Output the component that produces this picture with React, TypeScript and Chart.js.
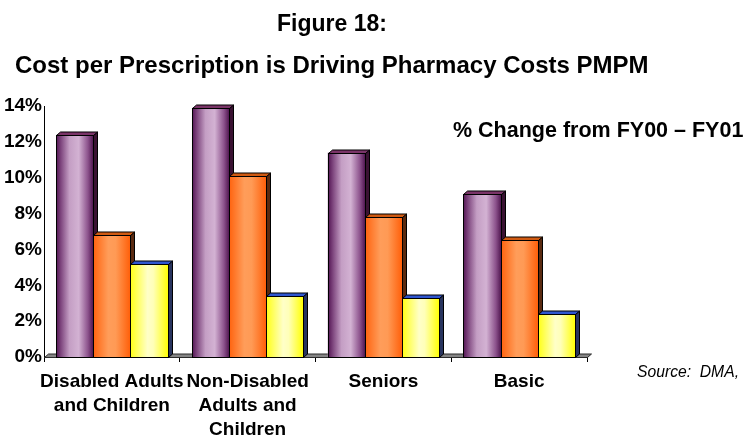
import React, { useEffect, useRef } from 'react';
import { Chart, registerables } from 'chart.js';

Chart.register(...registerables);

// ---- data ----
const categories: (string | string[])[] = [
  ['Disabled Adults', 'and Children'],
  ['Non-Disabled', 'Adults and', 'Children'],
  'Seniors',
  'Basic',
];
const seriesNames = ['Series 1', 'Series 2', 'Series 3'];
const purpleValues = [12.4, 13.9, 11.4, 9.1];
const orangeValues = [6.8, 10.1, 7.8, 6.5];
const yellowValues = [5.2, 3.4, 3.3, 2.4];
const yMin = 0;
const yMax = 14;
const yStep = 2;
const titleLine1 = 'Figure 18:';
const titleLine2 = 'Cost per Prescription is Driving Pharmacy Costs PMPM';
const noteText = '% Change from FY00 \u2013 FY01';
const sourceText = 'Source:  DMA,';

// ---- styles ----
const FONT = '"Liberation Sans", Arial, Helvetica, sans-serif';
const DX = 4;
const DY = 3.5;
const styles = [
  {
    base: '#b184b1',
    grad: [
      [0, '#561856'],
      [0.12, '#7e467e'],
      [0.35, '#c49ec4'],
      [0.6, '#d3b2d3'],
      [0.85, '#8c528c'],
      [1, '#4c124c'],
    ],
    top: '#7a3468',
    side: '#3a1232',
  },
  {
    base: '#ff8a3c',
    grad: [
      [0, '#ff6410'],
      [0.4, '#ff9d5a'],
      [0.6, '#ff9a55'],
      [1, '#ff5e08'],
    ],
    top: '#d05a12',
    side: '#5a2a10',
  },
  {
    base: '#ffff80',
    grad: [
      [0, '#ffff18'],
      [0.45, '#ffffc8'],
      [0.6, '#ffffb8'],
      [1, '#ffff00'],
    ],
    top: '#2f56d0',
    side: '#28345e',
  },
];

const bar3dPlugin = {
  id: 'bar3d',
  beforeDatasetsDraw(chart: any) {
    const { ctx, chartArea, scales } = chart;
    const y0 = Math.round(scales.y.getPixelForValue(0)) + 0.5;
    const l = Math.round(chartArea.left) + 0.5;
    const r = Math.round(chartArea.right) + 0.5;
    ctx.save();
    ctx.beginPath();
    ctx.moveTo(l, y0);
    ctx.lineTo(r, y0);
    ctx.lineTo(r + DX, y0 - DY);
    ctx.lineTo(l + DX, y0 - DY);
    ctx.closePath();
    ctx.fillStyle = '#858585';
    ctx.fill();
    ctx.strokeStyle = '#2a2a2a';
    ctx.lineWidth = 1;
    ctx.stroke();
    ctx.restore();
  },
  afterDatasetsDraw(chart: any) {
    const { ctx } = chart;
    ctx.save();
    ctx.lineWidth = 1;
    ctx.strokeStyle = '#000';
    chart.data.datasets.forEach((_ds: any, di: number) => {
      const meta = chart.getDatasetMeta(di);
      const st = styles[di];
      meta.data.forEach((el: any) => {
        const p = el.getProps(['x', 'y', 'base', 'width'], true);
        const l = Math.round(p.x - p.width / 2) + 0.5;
        const r = Math.round(p.x + p.width / 2) + 0.5;
        const t = Math.round(p.y) + 0.5;
        const b = Math.round(p.base) + 0.5;
        // side face
        ctx.beginPath();
        ctx.moveTo(r, t);
        ctx.lineTo(r + DX, t - DY);
        ctx.lineTo(r + DX, b - DY);
        ctx.lineTo(r, b);
        ctx.closePath();
        ctx.fillStyle = st.side;
        ctx.fill();
        ctx.stroke();
        // top face
        ctx.beginPath();
        ctx.moveTo(l, t);
        ctx.lineTo(l + DX, t - DY);
        ctx.lineTo(r + DX, t - DY);
        ctx.lineTo(r, t);
        ctx.closePath();
        ctx.fillStyle = st.top;
        ctx.fill();
        ctx.stroke();
        // front face
        const g = ctx.createLinearGradient(l, 0, r, 0);
        st.grad.forEach(([o, c]: any) => g.addColorStop(o, c));
        ctx.fillStyle = g;
        ctx.fillRect(l, t, r - l, b - t);
        ctx.strokeRect(l, t, r - l, b - t);
      });
    });
    ctx.restore();
  },
  afterDraw(chart: any) {
    const { ctx } = chart;
    ctx.save();
    ctx.fillStyle = '#000';
    ctx.textBaseline = 'alphabetic';
    ctx.font = `bold 23px ${FONT}`;
    ctx.textAlign = 'center';
    ctx.fillText(titleLine1, 332, 31);
    ctx.font = `bold 24px ${FONT}`;
    ctx.textAlign = 'left';
    ctx.fillText(titleLine2, 15, 73, 634);
    ctx.font = `bold 21.5px ${FONT}`;
    ctx.fillText(noteText, 453, 137, 291);
    ctx.font = `italic 16px ${FONT}`;
    ctx.fillText(sourceText, 637, 377, 102);
    ctx.restore();
  },
};

export default function App() {
  const ref = useRef<HTMLCanvasElement | null>(null);
  useEffect(() => {
    if (!ref.current) return;
    const ticksVals: number[] = [];
    for (let v = yMin; v <= yMax; v += yStep) ticksVals.push(v);
    const chart = new Chart(ref.current, {
      type: 'bar',
      data: {
        labels: categories as any,
        datasets: [
          { label: seriesNames[0], data: purpleValues, backgroundColor: styles[0].base, borderWidth: 0 },
          { label: seriesNames[1], data: orangeValues, backgroundColor: styles[1].base, borderWidth: 0 },
          { label: seriesNames[2], data: yellowValues, backgroundColor: styles[2].base, borderWidth: 0 },
        ],
      },
      options: {
        animation: false,
        responsive: false,
        devicePixelRatio: 1,
        layout: { padding: { top: 106, right: 158, left: 0, bottom: 0 } },
        datasets: { bar: { categoryPercentage: 0.82, barPercentage: 1.0 } },
        plugins: {
          legend: { display: false },
          title: { display: false },
          tooltip: { enabled: false },
        },
        scales: {
          x: {
            grid: {
              display: true,
              drawOnChartArea: false,
              drawTicks: true,
              tickLength: 5,
              color: '#000',
              offset: true,
            },
            border: { display: true, color: '#000', width: 1 },
            ticks: {
              color: '#000',
              padding: 8,
              maxRotation: 0,
              autoSkip: false,
              font: { family: FONT, size: 19, weight: 'bold', lineHeight: 1.263 },
            },
            afterFit: (s: any) => {
              s.height = 81;
            },
          },
          y: {
            min: yMin,
            max: yMax,
            grid: { display: false, drawTicks: false },
            border: { display: true, color: '#000', width: 1 },
            ticks: {
              stepSize: yStep,
              padding: 2,
              color: '#000',
              font: { family: FONT, size: 19, weight: 'bold' },
              callback: (v: any) => `${v}%`,
            },
            afterBuildTicks: (s: any) => {
              s.ticks = ticksVals.map((v) => ({ value: v }));
            },
            afterFit: (s: any) => {
              s.width = 44;
            },
          },
        },
      },
      plugins: [bar3dPlugin],
    } as any);
    return () => chart.destroy();
  }, []);
  return (
    <div style={{ position: 'fixed', left: 0, top: 0, width: 745, height: 438, background: '#fff' }}>
      <canvas ref={ref} width={745} height={438} />
    </div>
  );
}
